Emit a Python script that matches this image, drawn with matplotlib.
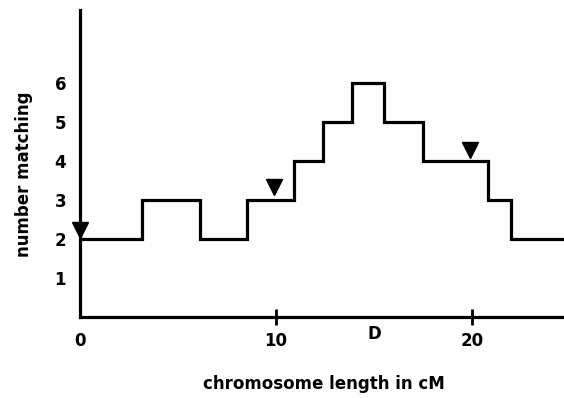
import matplotlib
matplotlib.use("Agg")
import matplotlib.pyplot as plt

# Data
edges = [0, 3.15, 6.1, 8.5, 10.9, 12.4, 13.9, 15.5, 17.5, 20.8, 22.0, 24.7]
levels = [2, 3, 2, 3, 4, 5, 6, 5, 4, 3, 2]
marker_x = [0, 9.9, 19.9]
marker_y = [2.22, 3.33, 4.27]
xtick_pos = [0, 10, 20]
xtick_labels = ["0", "10", "20"]
d_pos = 15
d_label = "D"
ytick_pos = [1, 2, 3, 4, 5, 6]

plt.rcParams['font.family'] = ['DejaVu Sans']

W, H = 564, 398
fig = plt.figure(figsize=(W/100, H/100), dpi=100)
x0, y0, ytop = 80, 316.7, 10
ax = fig.add_axes([x0/W, 1-y0/H, 1-x0/W, (y0-ytop)/H])

ax.stairs(levels, edges, color='black', linewidth=2.3, baseline=None)
ax.plot(marker_x, marker_y, linestyle='none', marker='v', markersize=11,
        color='black', clip_on=False, zorder=5)

ax.set_xlim(0, 24.7)
ax.set_ylim(0, 7.86)
for s in ['top', 'right']:
    ax.spines[s].set_visible(False)
for s in ['left', 'bottom']:
    ax.spines[s].set_linewidth(2.3)

ax.set_xticks(xtick_pos)
ax.set_xticklabels(xtick_labels, fontsize=12, fontweight='bold')
ax.tick_params(axis='x', direction='inout', length=12, width=2, pad=5)
ax.xaxis.get_major_ticks()[0].tick1line.set_visible(False)

ax.annotate(d_label, xy=(d_pos, 0), xycoords=('data', 'axes fraction'),
            xytext=(0, -6), textcoords='offset points', ha='center', va='top',
            fontsize=12, fontweight='bold')

ax.set_yticks(ytick_pos)
ax.set_yticklabels([str(v) for v in ytick_pos], fontsize=12, fontweight='bold')
ax.tick_params(axis='y', length=0, pad=10)

fig.text(324/W, 1-384/H, "chromosome length in cM", fontsize=12,
         fontweight='bold', ha='center', va='center')
fig.text(24/W, 1-174/H, "number matching", fontsize=12, fontweight='bold',
         rotation=90, ha='center', va='center')

fig.savefig("out.png", dpi=100)
